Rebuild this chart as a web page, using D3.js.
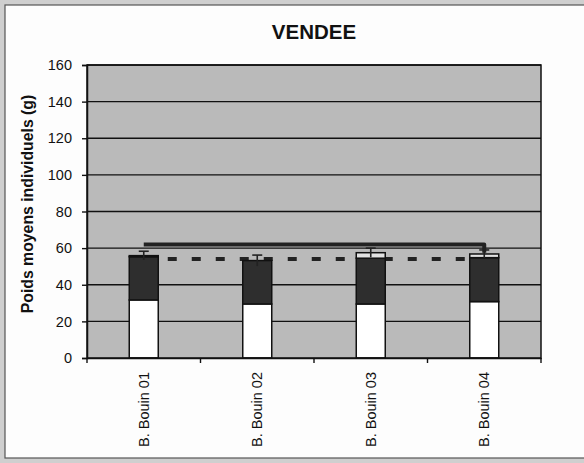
<!DOCTYPE html>
<html><head><meta charset="utf-8">
<script src="https://cdn.jsdelivr.net/npm/d3@7"></script>
<style>body{margin:0;background:#fff}svg{display:block}</style>
</head><body><svg id="c" width="584" height="463"></svg>
<script>
const categories = ["B. Bouin 01","B. Bouin 02","B. Bouin 03","B. Bouin 04"];
const baseWeight = [31.7, 29.5, 29.5, 30.8];      // white segment
const gainWeight = [23.6, 23.7, 25.0, 24.0];      // dark segment
const topWeight  = [0.6, 0.0, 3.0, 2.0];          // light top segment
const errors     = [2.4, 3.0, 2.5, 2.2];
const dashedRef  = [54, 54, 54, 54];
const solidRef   = [62, 62, 62, 62];
const solidEnd   = 57.5;
const yTicks = [0,20,40,60,80,100,120,140,160];

const svg = d3.select("#c");
const L = 87, R = 541, T = 65, B = 358;
const FONT = "Liberation Sans, Arial, sans-serif";

// outer frame
svg.append("rect").attr("x",0).attr("y",0).attr("width",584).attr("height",463).attr("fill","#cfcfcf");
svg.append("rect").attr("x",5).attr("y",5).attr("width",580).attr("height",453).attr("fill","#fdfdfd")
   .attr("stroke","#555").attr("stroke-width",1.2);

const x = d3.scaleBand().domain(categories).range([L,R]);
const y = d3.scaleLinear().domain([0,160]).range([B,T]);
const bw = 29;

svg.append("rect").attr("x",L).attr("y",T).attr("width",R-L).attr("height",B-T).attr("fill","#bababa");

// gridlines
svg.append("g").selectAll("line").data(yTicks.filter(d=>d>0)).join("line")
  .attr("x1",L).attr("x2",R).attr("y1",d=>y(d)).attr("y2",d=>y(d))
  .attr("stroke","#111").attr("stroke-width",1.4);

// dashed reference line (behind bars)
const cx = d => x(d) + x.bandwidth()/2;
svg.append("path")
  .attr("d", d3.line().x((d,i)=>cx(categories[i])).y(d=>y(d))(dashedRef))
  .attr("fill","none").attr("stroke","#222").attr("stroke-width",4).attr("stroke-dasharray","9,15");

// stacked bars
const rows = categories.map((c,i)=>({cat:c, base:baseWeight[i], gain:gainWeight[i], top:topWeight[i]}));
const stack = d3.stack().keys(["base","gain","top"])(rows);
const fills = {base:"#ffffff", gain:"#2e2e2e", top:"#e2e2e2"};
svg.append("g").selectAll("g").data(stack).join("g")
  .attr("fill", s=>fills[s.key])
  .selectAll("rect").data(s=>s.filter(d=>d[1]-d[0]>0)).join("rect")
  .attr("x", d=>cx(d.data.cat)-bw/2).attr("width", bw)
  .attr("y", d=>y(d[1])).attr("height", d=>y(d[0])-y(d[1]))
  .attr("stroke","#111").attr("stroke-width",1.5);

// error bars
const totals = rows.map(r=>r.base+r.gain+r.top);
const eb = svg.append("g").attr("stroke","#222").attr("stroke-width",1.6);
categories.forEach((c,i)=>{
  eb.append("line").attr("x1",cx(c)).attr("x2",cx(c)).attr("y1",y(totals[i]+errors[i])).attr("y2",y(totals[i]-errors[i]));
  eb.append("line").attr("x1",cx(c)-5).attr("x2",cx(c)+5).attr("y1",y(totals[i]+errors[i])).attr("y2",y(totals[i]+errors[i]));
});

// solid reference line with end hook
const solidPts = solidRef.map((v,i)=>[cx(categories[i]), y(v)]);
solidPts.push([cx(categories[categories.length-1]), y(solidEnd)]);
svg.append("path").attr("d", d3.line()(solidPts))
  .attr("fill","none").attr("stroke","#222").attr("stroke-width",4).attr("stroke-linejoin","round");

// plot border
svg.append("rect").attr("x",L).attr("y",T).attr("width",R-L).attr("height",B-T)
  .attr("fill","none").attr("stroke","#111").attr("stroke-width",1.5);

// axes
const yAxis = svg.append("g").attr("transform",`translate(${L},0)`)
  .call(d3.axisLeft(y).tickValues(yTicks).tickSize(5).tickPadding(10));
yAxis.select(".domain").attr("stroke","#111").attr("stroke-width",1.5);
yAxis.selectAll("line").attr("stroke","#111").attr("stroke-width",1.4);
yAxis.selectAll("text").attr("font-family",FONT).attr("font-size",14.5).attr("fill","#111");

const xAxis = svg.append("g").attr("transform",`translate(0,${B})`)
  .call(d3.axisBottom(x).tickValues([]).tickSizeOuter(0));
xAxis.select(".domain").attr("stroke","#111").attr("stroke-width",1.5);
// boundary tick marks
svg.append("g").selectAll("line").data(categories.concat(["__end"])).join("line")
  .attr("x1",(d,i)=> i<categories.length ? x(d) : R).attr("x2",(d,i)=> i<categories.length ? x(d) : R)
  .attr("y1",B).attr("y2",B+5).attr("stroke","#111").attr("stroke-width",1.4);

svg.append("g").selectAll("text").data(categories).join("text")
  .attr("transform", d=>`translate(${cx(d)+5},${B+14}) rotate(-90)`)
  .attr("text-anchor","end")
  .attr("font-family",FONT).attr("font-size",14.5).attr("fill","#111")
  .text(d=>d);

// title & y label
svg.append("text").attr("x",314).attr("y",39).attr("text-anchor","middle")
  .attr("font-family",FONT).attr("font-weight","bold").attr("font-size",20.5).attr("fill","#111")
  .text("VENDEE");
svg.append("text").attr("transform",`translate(33,204) rotate(-90)`).attr("text-anchor","middle")
  .attr("font-family",FONT).attr("font-weight","bold").attr("font-size",15.8).attr("fill","#111")
  .text("Poids moyens individuels (g)");
</script></body></html>
